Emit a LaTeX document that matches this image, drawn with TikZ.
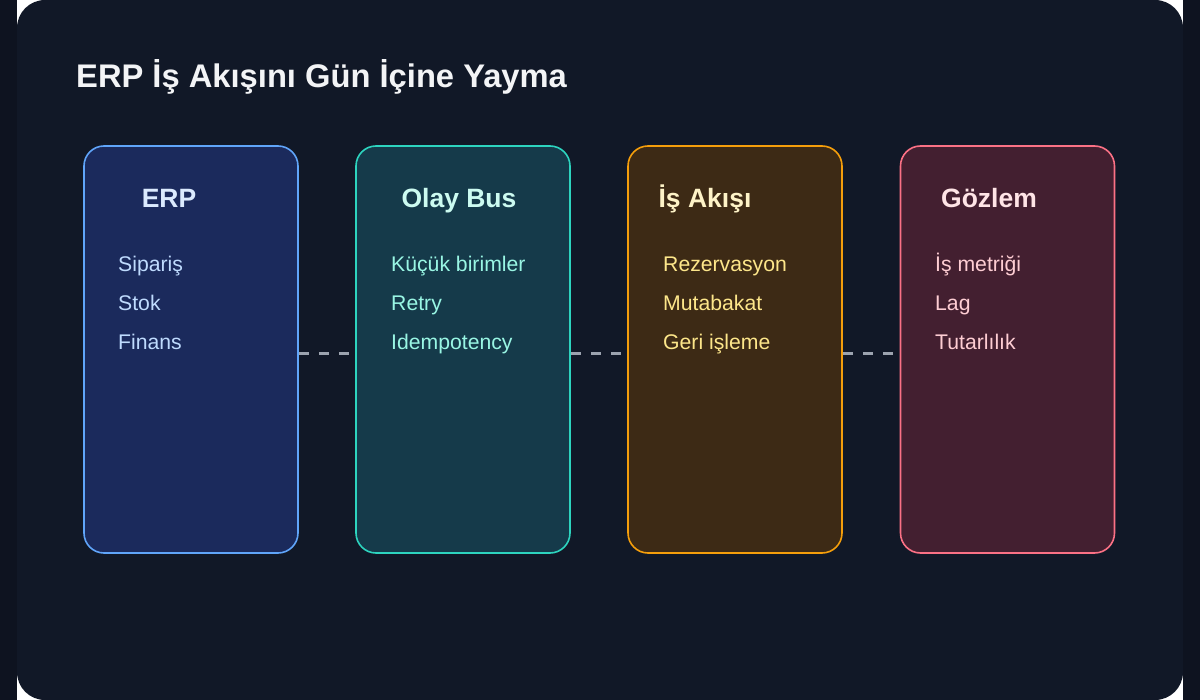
\documentclass[tikz,border=0pt]{standalone}
\usepackage{fontspec}
\setmainfont{Liberation Sans}
\usepackage{xcolor}
\definecolor{pageBg}{HTML}{0E1320}
\definecolor{panelBg}{HTML}{111827}
\definecolor{titleText}{HTML}{F3F4F6}
\definecolor{linkGray}{HTML}{9CA3AF}
\definecolor{erpLine}{HTML}{60A5FA}
\definecolor{erpFill}{HTML}{1B2A5C}
\definecolor{erpHead}{HTML}{DBEAFE}
\definecolor{erpItem}{HTML}{BFDBFE}
\definecolor{busLine}{HTML}{2DD4BF}
\definecolor{busFill}{HTML}{153A4A}
\definecolor{busHead}{HTML}{CCFBF1}
\definecolor{busItem}{HTML}{99F6E4}
\definecolor{flowLine}{HTML}{F59E0B}
\definecolor{flowFill}{HTML}{3D2A15}
\definecolor{flowHead}{HTML}{FEF3C7}
\definecolor{flowItem}{HTML}{FDE68A}
\definecolor{obsLine}{HTML}{FB7185}
\definecolor{obsFill}{HTML}{431F30}
\definecolor{obsHead}{HTML}{FFE4E6}
\definecolor{obsItem}{HTML}{FECDD3}
\usetikzlibrary{positioning}
\tikzset{
    % Stage column - tall rounded card
    stage/.style={
        rectangle,
        rounded corners=20pt,
        line width=1.6pt,
        minimum width=214pt,
        minimum height=407pt,
        inner sep=0pt,
    },
    % Column heading
    stage head/.style={
        font=\fontsize{26.5}{30}\selectfont\bfseries,
        anchor=base,
        inner sep=0pt,
    },
    % Item lines inside a column
    stage item/.style={
        font=\fontsize{21.2}{25}\selectfont,
        anchor=base west,
        inner sep=0pt,
    },
    % Dashed link between columns
    link/.style={
        draw=linkGray,
        line width=3pt,
        dash pattern=on 10pt off 10pt,
    },
}

\begin{document}
\begin{tikzpicture}[x=1pt, y=-1pt]
    % page and panel
    \fill[pageBg] (0,0) rectangle (1200,700);
    \fill[white] (17,0) rectangle (1183,700);
    \fill[panelBg, rounded corners=28pt] (17,0) rectangle (1183,700);
    \useasboundingbox (0,0) rectangle (1200,700);

    \node (title) [anchor=base west, inner sep=0pt, text=titleText,
        font=\fontsize{32.7}{38}\selectfont\bfseries] at (76,88) {ERP İş Akışını Gün İçine Yayma};

    % columns
    \node (erp) [stage, draw=erpLine, fill=erpFill] at (191,349.5) {};
    \node (bus) [stage, draw=busLine, fill=busFill] at (463,349.5) {};
    \node (flow) [stage, draw=flowLine, fill=flowFill] at (735,349.5) {};
    \node (obs) [stage, draw=obsLine, fill=obsFill] at (1007.5,349.5) {};

    % headings
    \node (erpHeadTxt) [stage head, text=erpHead] at (169,208) {ERP};
    \node (busHeadTxt) [stage head, text=busHead] at (459,208) {Olay Bus};
    \node (flowHeadTxt) [stage head, text=flowHead] at (705,208) {İş Akışı};
    \node (obsHeadTxt) [stage head, text=obsHead] at (989,208) {Gözlem};

    % items
    \node (erpA) [stage item, text=erpItem] at (118,272) {Sipariş};
    \node (erpB) [stage item, text=erpItem] at (118,311) {Stok};
    \node (erpC) [stage item, text=erpItem] at (118,350) {Finans};

    \node (busA) [stage item, text=busItem] at (391,272) {Küçük birimler};
    \node (busB) [stage item, text=busItem] at (391,311) {Retry};
    \node (busC) [stage item, text=busItem] at (391,350) {Idempotency};

    \node (flowA) [stage item, text=flowItem] at (663,272) {Rezervasyon};
    \node (flowB) [stage item, text=flowItem] at (663,311) {Mutabakat};
    \node (flowC) [stage item, text=flowItem] at (663,350) {Geri işleme};

    \node (obsA) [stage item, text=obsItem] at (935,272) {İş metriği};
    \node (obsB) [stage item, text=obsItem] at (935,311) {Lag};
    \node (obsC) [stage item, text=obsItem] at (935,350) {Tutarlılık};

    % links
    \draw [link] ([yshift=-4.5pt]erp.east) -- ([yshift=-4.5pt]bus.west);
    \draw [link] ([yshift=-4.5pt]bus.east) -- ([yshift=-4.5pt]flow.west);
    \draw [link] ([yshift=-4.5pt]flow.east) -- ([yshift=-4.5pt]obs.west);
\end{tikzpicture}
\end{document}
